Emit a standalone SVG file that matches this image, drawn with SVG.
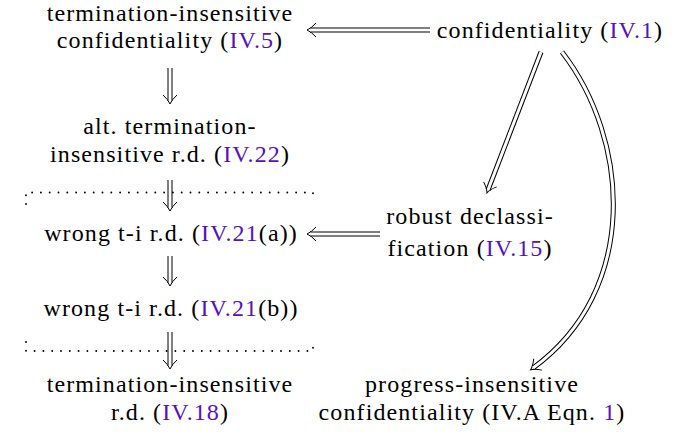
<svg xmlns="http://www.w3.org/2000/svg" width="686" height="440" viewBox="0 0 686 440">
<style>
text{font-family:"Liberation Serif","Times New Roman",serif;font-size:24px;letter-spacing:1.1px;fill:#000;text-anchor:middle}
.ref{fill:#5512c0}
.sh{fill:none;stroke:#000;stroke-width:5}
.in{fill:none;stroke:#fff;stroke-width:3}
.dot{fill:none;stroke:#000;stroke-width:1.9;stroke-linecap:round;stroke-dasharray:0 8.8}
</style>
<defs>
<marker id="imp" viewBox="-10 -10 20 20" markerWidth="20" markerHeight="20" refX="0" refY="0" orient="auto" markerUnits="userSpaceOnUse">
<path d="M-6,-7 Q-1,-1.5 3,0 Q-1,1.5 -6,7" fill="none" stroke="#000" stroke-width="1"/>
</marker>
</defs>
<rect width="686" height="440" fill="#fff"/>
<g id="connectors">
<path class="sh" d="M430,30 L310,30" marker-end="url(#imp)"/><path class="in" d="M430,30 L310,30"/>
<path class="sh" d="M170,68 L170,101" marker-end="url(#imp)"/><path class="in" d="M170,68 L170,101"/>
<path class="sh" d="M170,180 L170,208" marker-end="url(#imp)"/><path class="in" d="M170,180 L170,208"/>
<path class="sh" d="M170,256 L170,283" marker-end="url(#imp)"/><path class="in" d="M170,256 L170,283"/>
<path class="sh" d="M170,332 L170,366" marker-end="url(#imp)"/><path class="in" d="M170,332 L170,366"/>
<path class="sh" d="M380,234 L310,234" marker-end="url(#imp)"/><path class="in" d="M380,234 L310,234"/>
<path class="sh" d="M541,52 L488,190" marker-end="url(#imp)"/><path class="in" d="M541,52 L488,190"/>
<path class="sh" d="M562,52 C630,140 640,290 533,368" marker-end="url(#imp)"/><path class="in" d="M562,52 C630,140 640,290 533,368"/>
<path class="dot" d="M26,204 L26,192.5 L313,192.5 L313,200"/>
<path class="dot" d="M26,342 L26,351 L313,351 L313,343"/>
</g>
<g id="ti-conf"><text x="170" y="21">termination-insensitive</text><text x="170" y="48">confidentiality (<tspan class="ref">IV.5</tspan>)</text></g>
<g id="conf"><text x="550" y="38">confidentiality (<tspan class="ref">IV.1</tspan>)</text></g>
<g id="alt-ti-rd"><text x="170" y="134">alt. termination-</text><text x="170" y="162">insensitive r.d. (<tspan class="ref">IV.22</tspan>)</text></g>
<g id="wrong-a"><text x="171" y="241">wrong t-i r.d. (<tspan class="ref">IV.21</tspan>(a))</text></g>
<g id="wrong-b"><text x="171" y="316">wrong t-i r.d. (<tspan class="ref">IV.21</tspan>(b))</text></g>
<g id="ti-rd"><text x="170" y="392">termination-insensitive</text><text x="170" y="420">r.d. (<tspan class="ref">IV.18</tspan>)</text></g>
<g id="robust"><text x="470" y="224">robust declassi-</text><text x="470" y="256">fication (<tspan class="ref">IV.15</tspan>)</text></g>
<g id="pi-conf"><text x="472" y="392">progress-insensitive</text><text x="472" y="420">confidentiality (IV.A Eqn. <tspan class="ref">1</tspan>)</text></g>
</svg>
